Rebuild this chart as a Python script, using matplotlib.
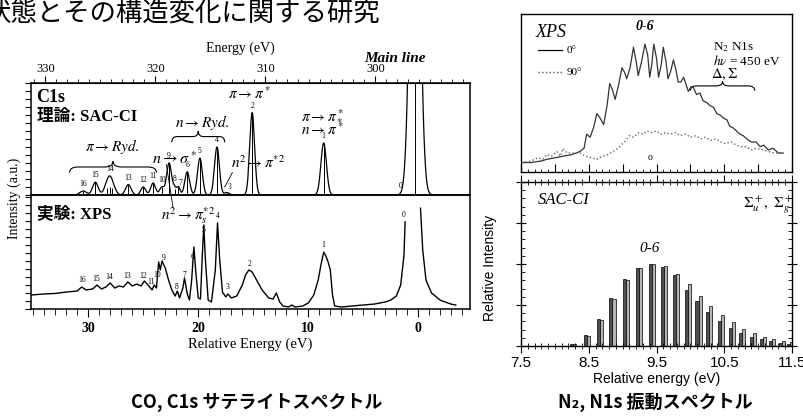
import numpy as np
import matplotlib
matplotlib.use("Agg")
import matplotlib.pyplot as plt
from matplotlib.path import Path
from matplotlib.patches import PathPatch
from matplotlib.ticker import MultipleLocator

plt.rcParams['font.family'] = ['Liberation Serif', 'Noto Sans CJK JP']
plt.rcParams['mathtext.fontset'] = 'stix'

# ---- CO C1s satellite data ----
main_line_ev = 296.1  # binding energy of the main line (eV)

# SAC-CI sticks: relative energy (eV), intensity, gaussian width
theory_pos = [0.3, 8.6, 15.1, 17.4, 18.3, 19.85, 21.0, 21.8, 22.15, 22.65,
              23.3, 24.1, 25.0, 26.35, 27.85, 28.05, 28.25, 29.35, 30.45]
theory_h = [60.0, 6.5, 10.3, 0.3, 6.0, 4.6, 2.9, 1.0, 0.8, 4.0,
            1.0, 1.5, 1.0, 1.3, 0.9, 0.95, 0.9, 1.6, 0.5]
theory_w = [0.4, 0.25, 0.22, 0.22, 0.22, 0.22, 0.22, 0.15, 0.15, 0.22,
            0.2, 0.22, 0.22, 0.25, 0.3, 0.3, 0.3, 0.25, 0.3]
theory_lbl = ['0', '1', '2', '3', '4', '5', '6', '7', '8', '9',
              '10', '11', '12', '13', '14', '15', '16']
theory_lbl_e = [1.6, 8.6, 15.1, 17.2, 18.3, 19.85, 21.0, 21.65, 22.15, 22.65,
                23.3, 24.1, 25.0, 26.35, 28.05, 29.35, 30.5]

# experimental XPS (relative energy, intensity); nan = off-scale main line
xps_e = [35.2, 34.0, 33.0, 32.0, 31.0, 30.6, 30.2, 29.6, 29.2, 28.8, 28.4, 28.0,
         27.6, 27.2, 26.8, 26.4, 26.0, 25.6, 25.2, 24.9, 24.5, 24.2, 24.0, 23.8,
         23.6, 23.45, 23.3, 23.0, 22.7, 22.4, 22.1, 21.9, 21.7, 21.4, 21.25, 21.0,
         20.8, 20.6, 20.4, 20.2, 20.0, 19.8, 19.65, 19.5, 19.35, 19.1, 18.8, 18.45,
         18.25, 18.05, 17.8, 17.5, 17.3, 17.0, 16.5, 16.0, 15.7, 15.4, 15.1, 14.7,
         14.2, 13.6, 13.2, 12.9, 12.6, 12.3, 11.8, 11.5, 11.2, 10.5, 10.0, 9.5,
         9.1, 8.85, 8.6, 8.4, 8.2, 8.0, 7.8, 7.6, 7.0, 6.0, 5.0, 4.0,
         3.0, 2.5, 2.0, 1.6, 1.3, 1.2, 0.5, -0.2, -0.4, -0.7, -1.2, -2.0,
         -3.0, -3.4]
xps_i = [1.75, 1.88, 1.94, 2.12, 2.25, 2.75, 2.38, 2.5, 3.0, 2.5, 2.75, 3.25,
         2.62, 2.88, 2.75, 3.38, 2.88, 3.12, 2.88, 3.5, 2.88, 2.38, 3.0, 2.62,
         5.88, 4.88, 6.0, 5.12, 3.62, 2.38, 1.62, 2.25, 1.38, 2.62, 3.88, 1.88,
         1.12, 3.62, 7.75, 4.25, 1.38, 1.25, 6.12, 10.5, 6.12, 1.12, 0.88, 4.88,
         10.75, 6.12, 2.12, 1.5, 1.88, 1.38, 1.62, 3.0, 4.25, 4.88, 4.62, 3.62,
         2.38, 1.38, 1.25, 2.0, 0.88, 0.38, 0.25, 0.5, 0.25, 0.38, 0.75, 1.75,
         3.62, 5.5, 7.12, 6.62, 5.88, 4.88, 1.75, 0.38, 0.25, 0.38, 0.5, 0.62,
         0.88, 1.12, 1.62, 3.0, 6.75, 10.9, np.nan, 12.6, 7.4, 3.6, 2.0, 1.1,
         0.6, 0.5]
xps_lbl = ['16', '15', '14', '13', '12', '11', '10', '9', '8', '7', '6', '5',
           '4', '3', '2', '1', '0']
xps_lbl_e = [30.6, 29.3, 28.1, 26.5, 25.0, 24.25, 23.75, 23.15, 22.0, 21.3,
             20.5, 19.55, 18.25, 17.3, 15.3, 8.6, 1.35]

# ---- N2 N1s vibrational data ----
n2_e0 = [7.51, 7.65, 7.80, 7.88, 8.00, 8.12, 8.25, 8.37, 8.43, 8.47, 8.52, 8.57,
         8.62, 8.67, 8.72, 8.77, 8.81, 8.85, 8.89, 8.94, 8.99, 9.03, 9.06, 9.11,
         9.16, 9.20, 9.23, 9.28, 9.33, 9.37, 9.40, 9.43, 9.46, 9.50, 9.53, 9.57,
         9.60, 9.64, 9.67, 9.71, 9.75, 9.79, 9.82, 9.86, 9.90, 9.94, 9.97, 10.01,
         10.04, 10.09, 10.14, 10.19, 10.24, 10.29, 10.34, 10.39, 10.44, 10.49,
         10.54, 10.58, 10.63, 10.68, 10.73, 10.78, 10.83, 10.90, 10.97, 11.03,
         11.08, 11.15, 11.22, 11.30, 11.37]
n2_i0 = [0.06, 0.06, 0.07, 0.08, 0.09, 0.10, 0.11, 0.13, 0.15, 0.24, 0.22, 0.28,
         0.37, 0.34, 0.30, 0.42, 0.56, 0.52, 0.46, 0.55, 0.66, 0.63, 0.59, 0.66,
         0.79, 0.70, 0.61, 0.70, 0.81, 0.74, 0.60, 0.68, 0.81, 0.72, 0.60, 0.68,
         0.79, 0.70, 0.59, 0.64, 0.71, 0.64, 0.57, 0.57, 0.60, 0.55, 0.51, 0.54,
         0.54, 0.49, 0.50, 0.45, 0.44, 0.42, 0.41, 0.37, 0.36, 0.34,
         0.33, 0.29, 0.28, 0.26, 0.24, 0.23, 0.21, 0.19, 0.19, 0.16,
         0.17, 0.14, 0.15, 0.12, 0.12]
n2_e90 = [7.51, 7.65, 7.75, 7.82, 7.88, 7.95, 8.03, 8.08, 8.12, 8.18, 8.27, 8.37,
          8.45, 8.55, 8.62, 8.70, 8.78, 8.86, 8.93, 9.00, 9.05, 9.10, 9.16, 9.24,
          9.30, 9.36, 9.43, 9.50, 9.56, 9.63, 9.70, 9.78, 9.85, 9.93, 10.00, 10.08,
          10.15, 10.22, 10.30, 10.38, 10.45, 10.52, 10.60, 10.68, 10.75, 10.82,
          10.90, 10.97, 11.07, 11.15, 11.25, 11.37]
n2_i90 = [0.06, 0.07, 0.09, 0.08, 0.11, 0.10, 0.13, 0.10, 0.15, 0.12, 0.12, 0.12,
          0.10, 0.09, 0.08, 0.10, 0.11, 0.13, 0.15, 0.18, 0.20, 0.23, 0.22, 0.25,
          0.24, 0.26, 0.25, 0.26, 0.24, 0.25, 0.24, 0.25, 0.23, 0.24, 0.22, 0.23,
          0.21, 0.22, 0.20, 0.21, 0.19, 0.18, 0.19, 0.17, 0.16, 0.16,
          0.14, 0.15, 0.14, 0.13, 0.12, 0.12]

# SAC-CI vibrational lines (Sigma_u+, Sigma_g+)
vib_e = [8.27, 8.47, 8.67, 8.85, 9.05, 9.24, 9.43, 9.61, 9.79, 9.96,
         10.12, 10.28, 10.45, 10.61, 10.76, 10.92, 11.07, 11.20, 11.35, 11.47]
sig_u = [0.05, 0.27, 0.67, 1.18, 1.63, 1.91, 1.99, 1.93, 1.72, 1.37,
         1.10, 0.83, 0.62, 0.45, 0.32, 0.22, 0.16, 0.12, 0.08, 0.06]
sig_g = [0.04, 0.25, 0.64, 1.15, 1.60, 1.90, 1.99, 1.95, 1.76, 1.50,
         1.23, 0.98, 0.76, 0.58, 0.42, 0.31, 0.23, 0.17, 0.12, 0.10]


def brace(ax, x0, x1, y, h, lw=0.8):
    # curly brace, cusp pointing up
    xm = 0.5 * (x0 + x1)
    w = 0.1 * (x1 - x0)
    verts = [(x0, y - h), (x0, y), (x0 + w, y), (xm - w, y), (xm, y), (xm, y + h),
             (xm, y), (xm + w, y), (x1 - w, y), (x1, y), (x1, y - h)]
    codes = [Path.MOVETO, Path.CURVE3, Path.CURVE3, Path.LINETO, Path.CURVE3,
             Path.CURVE3, Path.CURVE3, Path.CURVE3, Path.LINETO, Path.CURVE3,
             Path.CURVE3]
    ax.add_patch(PathPatch(Path(verts, codes), fill=False, lw=lw, color='black'))


fig = plt.figure(figsize=(8.04, 4.16), dpi=100)

fig.text(380 / 804, 1 - 13 / 416, '状態とその構造変化に関する研究', ha='right', va='center',
         fontsize=19, family='Noto Sans CJK JP')

# ================= left: CO C1s =================
ax_th = fig.add_axes([0.0386, 0.5313, 0.546, 0.2692], facecolor='none')
ax_ex = fig.add_axes([0.0386, 0.2572, 0.546, 0.2741], facecolor='none', sharex=ax_th)

grid = np.linspace(-4.7, 35.2, 6000)
env = np.zeros_like(grid)
for p, h, w in zip(theory_pos, theory_h, theory_w):
    env += h * np.exp(-(grid - p) ** 2 / (2 * w ** 2))
ax_th.plot(grid, env, color='black', lw=0.9)
ax_th.vlines(theory_pos, 0, theory_h, color='black', lw=0.7)
ax_th.set_xlim(35.2, -4.7)
ax_th.set_ylim(0, 14)

for lab, e in zip(theory_lbl, theory_lbl_e):
    yv = min(np.interp(e, grid, env) + 0.35, 12.6)
    ax_th.text(e, yv, lab, ha='center', va='bottom', fontsize=5.5)

ax_th.text(34.7, 12.2, 'C1s', fontsize=13, weight='bold', va='center')
ax_th.text(34.7, 9.7, '理論: SAC-CI', fontsize=12, weight='bold', va='center')
ax_th.text(15.3, 12.6, r'$\pi \rightarrow \pi^*$', fontsize=11, ha='center', va='center')
ax_th.text(8.7, 10.0, r'$\pi \rightarrow \pi^*_*$', fontsize=11, ha='center', va='center')
ax_th.text(8.7, 8.1, r'$n \rightarrow \pi^*$', fontsize=11, ha='center', va='center')
ax_th.text(19.6, 9.1, r'$n \rightarrow Ryd.$', fontsize=11, ha='center', va='center')
brace(ax_th, 22.4, 17.6, 7.3, 0.7)
ax_th.text(27.8, 6.0, r'$\pi \rightarrow Ryd.$', fontsize=11, ha='center', va='center')
brace(ax_th, 31.7, 23.8, 3.5, 0.7)
ax_th.text(22.2, 4.4, r'$n \rightarrow \sigma^*$', fontsize=11.5, ha='center', va='center')
ax_th.text(14.6, 4.0, r'$n^2 \rightarrow \pi^{*2}$', fontsize=11, ha='center', va='center')
ax_th.plot([16.9, 17.6], [2.8, 1.0], color='black', lw=0.6)
ax_th.plot([22.9, 22.3], [3.8, -1.5], color='black', lw=0.6, clip_on=False)
ax_th.text(2.1, 17.1, 'Main line', fontsize=11, weight='bold', style='italic',
           ha='center', va='center', clip_on=False)

ax_th.tick_params(axis='x', which='both', bottom=False, labelbottom=False)
ax_th.yaxis.set_major_locator(MultipleLocator(1))
ax_th.tick_params(axis='y', which='major', direction='out', length=4, labelleft=False)
for s in ax_th.spines.values():
    s.set_linewidth(1.1)

sec = ax_th.secondary_xaxis('top', functions=(lambda r: r + main_line_ev,
                                              lambda e: e - main_line_ev))
sec.set_xticks([330, 320, 310, 300])
sec.xaxis.set_minor_locator(MultipleLocator(1))
sec.tick_params(which='major', direction='out', length=5, labelsize=9, pad=1)
sec.tick_params(which='minor', direction='out', length=3)
fig.text(240 / 804, 1 - 48 / 416, 'Energy (eV)', ha='center', va='center', fontsize=10)

# experimental
ax_ex.plot(xps_e, xps_i, color='black', lw=1.0)
ax_ex.set_ylim(0, 14.25)
xe = np.array(xps_e)
xi = np.array(xps_i)
ok = ~np.isnan(xi)
for lab, e in zip(xps_lbl, xps_lbl_e):
    yv = np.interp(e, xe[ok][::-1], xi[ok][::-1]) + 0.35
    if lab == '0':
        yv = 11.3
    ax_ex.text(e, yv, lab, ha='center', va='bottom', fontsize=5.5)
ax_ex.text(34.7, 11.8, '実験: XPS', fontsize=12, weight='bold', va='center')
ax_ex.text(20.9, 11.7, r'$n^2 \rightarrow \pi_s^{*2}$', fontsize=11, ha='center', va='center')

ax_ex.xaxis.set_major_locator(MultipleLocator(10))
ax_ex.xaxis.set_minor_locator(MultipleLocator(1))
ax_ex.tick_params(axis='x', which='major', direction='out', length=6, labelsize=10, pad=3)
ax_ex.tick_params(axis='x', which='minor', direction='out', length=4)
for t in ax_ex.get_xticklabels():
    t.set_fontweight('bold')
ax_ex.yaxis.set_major_locator(MultipleLocator(1))
ax_ex.tick_params(axis='y', which='major', direction='out', length=4, labelleft=False)
for s in ax_ex.spines.values():
    s.set_linewidth(1.1)
ax_ex.set_xlabel('Relative Energy (eV)', fontsize=10.5, labelpad=2)
fig.text(14 / 804, 1 - 198 / 416, 'Intensity (a.u.)', rotation=90, ha='center',
         va='center', fontsize=10)

fig.text(257 / 804, 1 - 402 / 416, 'CO, C1s サテライトスペクトル', ha='center', va='center',
         fontsize=13, weight='bold', family=['Noto Sans CJK JP', 'DejaVu Sans'])

# ================= right: N2 N1s =================
ax_x = fig.add_axes([0.648, 0.5865, 0.3371, 0.3798])
ax_v = fig.add_axes([0.648, 0.1683, 0.3371, 0.3942])

ax_x.plot(n2_e0, n2_i0, color='#333333', lw=0.9)
ax_x.plot(n2_e90, n2_i90, color='#666666', lw=1.0, ls=':')
ax_x.set_xlim(7.5, 11.5)
ax_x.set_ylim(0, 1)
ax_x.xaxis.set_major_locator(MultipleLocator(0.5))
ax_x.xaxis.set_minor_locator(MultipleLocator(0.1))
ax_x.tick_params(axis='x', which='major', direction='in', length=6, labelbottom=False)
ax_x.tick_params(axis='x', which='minor', direction='in', length=2)
ax_x.tick_params(axis='y', left=False, labelleft=False)
for s in ax_x.spines.values():
    s.set_linewidth(1.0)

ax_x.text(7.71, 0.88, 'XPS', fontsize=13, style='italic', va='center')
ax_x.plot([7.75, 8.11], [0.77, 0.77], color='black', lw=0.9)
ax_x.text(8.18, 0.77, '0°', fontsize=8, va='center')
ax_x.plot([7.75, 8.11], [0.63, 0.63], color='#555555', lw=1.0, ls=':')
ax_x.text(8.18, 0.63, '90°', fontsize=8, va='center')
ax_x.text(9.33, 0.92, '0-6', fontsize=10, weight='bold', style='italic',
          ha='center', va='center')
ax_x.text(10.33, 0.79, r'N$_2$ N1s', fontsize=9.5, va='center')
ax_x.text(10.33, 0.70, r'$h\nu$ = 450 eV', fontsize=9.5, va='center')
ax_x.text(10.5, 0.62, r'$\Delta,\Sigma$', fontsize=10.5, ha='center', va='center')
brace(ax_x, 10.0, 10.95, 0.545, 0.03)
ax_x.text(9.40, 0.09, 'o', fontsize=7, ha='center', va='center')

bw = 0.045
ax_v.bar(np.array(vib_e) - bw / 2, sig_u, width=bw, color='#505050',
         edgecolor='black', lw=0.5)
ax_v.bar(np.array(vib_e) + bw / 2, sig_g, width=bw, color='#b5b5b5',
         edgecolor='black', lw=0.5)
ax_v.set_xlim(7.5, 11.5)
ax_v.set_ylim(0, 4)
ax_v.set_xticks([7.5, 8.5, 9.5, 10.5, 11.5])
ax_v.xaxis.set_minor_locator(MultipleLocator(0.1))
ax_v.tick_params(axis='x', which='major', direction='out', length=5, top=True,
                 labelsize=11, labelfontfamily='Liberation Sans', pad=2)
ax_v.tick_params(axis='x', which='minor', direction='inout', length=4, top=True)
ax_v.yaxis.set_major_locator(MultipleLocator(1))
ax_v.yaxis.set_minor_locator(MultipleLocator(0.2))
ax_v.tick_params(axis='y', which='major', direction='inout', length=7, right=True,
                 labelleft=False)
ax_v.tick_params(axis='y', which='minor', direction='in', length=3, right=True)
for s in ax_v.spines.values():
    s.set_linewidth(1.0)
ax_v.text(7.75, 3.56, 'SAC-CI', fontsize=12, style='italic', va='center')
ax_v.text(11.15, 3.44, r'$\Sigma_u^+,\ \Sigma_g^+$', fontsize=11, ha='center', va='center')
ax_v.text(9.40, 2.39, '0-6', fontsize=11, style='italic', ha='center', va='center')
ax_v.set_xlabel('Relative energy (eV)', fontsize=10, family='Liberation Sans', labelpad=2)
fig.text(490 / 804, 1 - 268 / 416, 'Relative Intensity', rotation=90, ha='center',
         va='center', fontsize=10, family='Liberation Sans')

fig.text(655 / 804, 1 - 402 / 416, 'N₂, N1s 振動スペクトル', ha='center', va='center',
         fontsize=13, weight='bold', family=['Noto Sans CJK JP', 'DejaVu Sans'])

fig.savefig('out.png', dpi=100)
